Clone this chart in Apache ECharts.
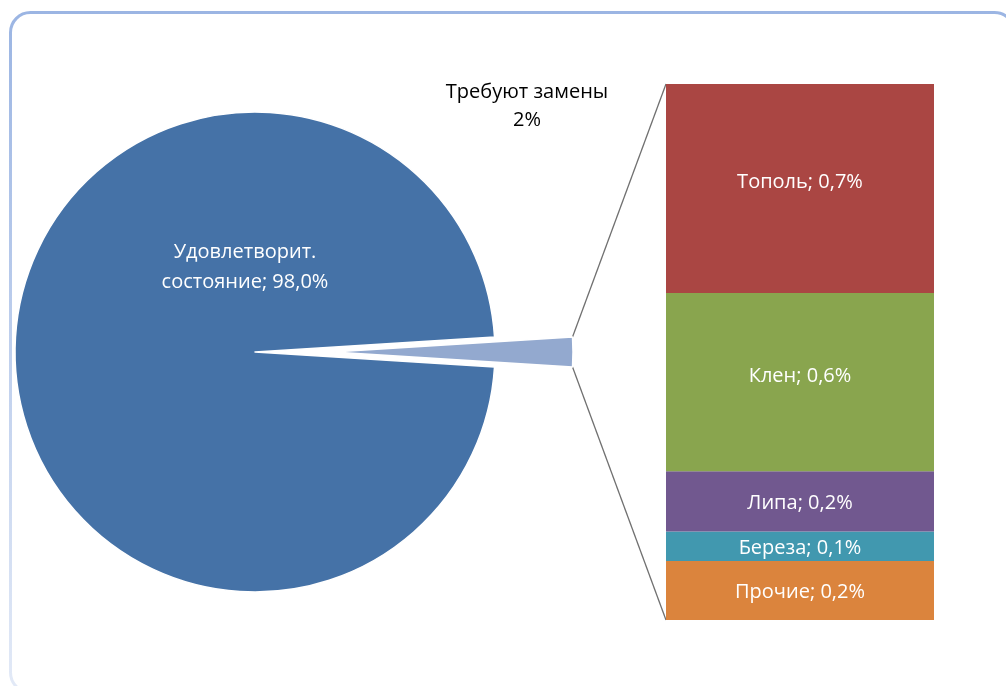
<!DOCTYPE html>
<html>
<head>
<meta charset="utf-8">
<script src="https://cdn.jsdelivr.net/npm/echarts@6/dist/echarts.min.js"></script>
<style>
  html, body { margin: 0; padding: 0; background: #fff; }
  #chart { width: 1006px; height: 686px; }
</style>
</head>
<body>
<div id="chart"></div>
<script>
// доли круга
var pieNames = ['Требуют замены', 'Удовлетворит. состояние'];
var pieValues = [2, 98];
// детализация "Требуют замены" (снизу вверх)
var treeNames = ['Прочие', 'Береза', 'Липа', 'Клен', 'Тополь'];
var treeValues = [0.22, 0.11, 0.225, 0.665, 0.78];
var treeLabels = ['0,2', '0,1', '0,2', '0,6', '0,7'];
var treeColors = ['#db843d', '#4198af', '#71588f', '#89a54e', '#aa4643'];

var font = 'Open Sans';
var dom = document.getElementById('chart');
var myChart = echarts.init(dom);

var R = 240;
var cx = 255, cy = 352;
var explode = 78;
var half = pieValues[0] / (pieValues[0] + pieValues[1]) * 180; // половина угла сектора
var rad = half * Math.PI / 180;
var tipX = cx + explode + R * Math.cos(rad);
var tipTop = cy - R * Math.sin(rad);
var tipBot = cy + R * Math.sin(rad);

var barLeft = 666, barTop = 84, barW = 268, barH = 536;

var barSeries = treeNames.map(function (n, i) {
    return {
        name: n,
        type: 'bar',
        stack: 'all',
        barWidth: '100%',
        silent: true,
        data: [treeValues[i]],
        itemStyle: { color: treeColors[i] },
        label: {
            show: true,
            position: 'inside',
            color: '#fff',
            fontFamily: font,
            fontSize: 20,
            offset: [0, treeValues[i] > 0.5 ? -6 : 2],
            formatter: n + '; ' + treeLabels[i] + '%'
        }
    };
});

var total = treeValues.reduce(function (a, b) { return a + b; }, 0);

var option = {
    animation: false,
    grid: { left: barLeft, top: barTop, width: barW, height: barH, containLabel: false },
    xAxis: { type: 'category', data: [''], show: false },
    yAxis: { type: 'value', min: 0, max: total, show: false },
    series: [
        {
            type: 'pie',
            center: [cx, cy],
            radius: R,
            startAngle: half,
            clockwise: true,
            silent: true,
            label: { show: false },
            itemStyle: { borderColor: '#fff', borderWidth: 1.5 },
            data: [
                { name: pieNames[0], value: pieValues[0], itemStyle: { color: 'transparent', borderWidth: 0 } },
                { name: pieNames[1], value: pieValues[1], itemStyle: { color: '#4572a7' } }
            ]
        },
        {
            type: 'pie',
            center: [cx + explode, cy],
            radius: R,
            startAngle: half,
            clockwise: true,
            silent: true,
            label: { show: false },
            itemStyle: { borderColor: '#fff', borderWidth: 1.5 },
            data: [
                { name: pieNames[0], value: pieValues[0], itemStyle: { color: '#93a9cf' } },
                { name: pieNames[1], value: pieValues[1], itemStyle: { color: 'transparent', borderWidth: 0 } }
            ]
        }
    ].concat(barSeries),
    graphic: [
        {
            type: 'rect',
            silent: true,
            shape: { x: 10.5, y: 12.5, width: 1004, height: 680, r: 20 },
            style: {
                fill: 'none',
                lineWidth: 3,
                stroke: new echarts.graphic.LinearGradient(0, 0, 0, 1, [
                    { offset: 0, color: '#9bb5e3' },
                    { offset: 1, color: '#e3eaf7' }
                ])
            }
        },
        {
            type: 'polyline',
            silent: true,
            shape: { points: [[barLeft, barTop], [tipX, tipTop]] },
            style: { stroke: '#707070', lineWidth: 1.3, fill: 'none' }
        },
        {
            type: 'polyline',
            silent: true,
            shape: { points: [[barLeft, barTop + barH], [tipX, tipBot]] },
            style: { stroke: '#707070', lineWidth: 1.3, fill: 'none' }
        },
        {
            type: 'text',
            silent: true,
            z: 100,
            x: 245, y: 267,
            style: {
                text: 'Удовлетворит.\nсостояние; ' + pieValues[1].toFixed(1).replace('.', ',') + '%',
                fill: '#fff',
                font: '20px "' + font + '"',
                lineHeight: 30,
                align: 'center',
                verticalAlign: 'middle'
            }
        },
        {
            type: 'text',
            silent: true,
            z: 100,
            x: 527, y: 106,
            style: {
                text: pieNames[0] + '\n' + pieValues[0] + '%',
                fill: '#000',
                font: '20px "' + font + '"',
                lineHeight: 28,
                align: 'center',
                verticalAlign: 'middle'
            }
        }
    ]
};

myChart.setOption(option, true);
</script>
</body>
</html>
